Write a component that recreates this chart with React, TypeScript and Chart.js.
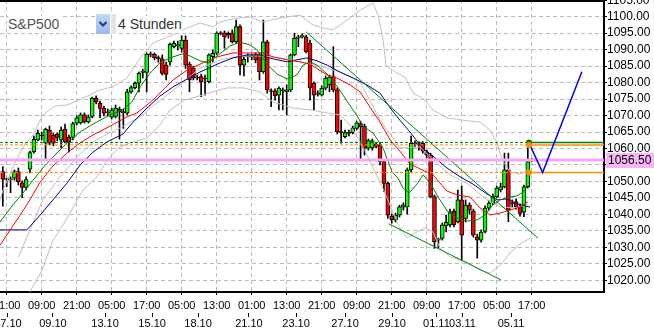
import React, { useEffect, useRef } from 'react';
import { Chart, registerables } from 'chart.js';

Chart.register(...registerables);

const FONT = "'Liberation Sans', Arial, Helvetica, sans-serif";

// ---- 4h candles (bar index 0..136) ----
const opens = [
  1053.0, 1050.7, 1050.5, 1051.0, 1053.0, 1049.6, 1048.2, 1053.7, 1059.0, 1062.6,
  1064.1, 1061.6, 1065.6, 1064.1, 1064.3, 1062.6, 1065.8, 1063.4, 1063.4, 1067.7,
  1067.8, 1070.2, 1068.1, 1069.7, 1075.2, 1073.7, 1072.2, 1071.1, 1069.5, 1069.7,
  1071.9, 1071.2, 1070.7, 1077.2, 1078.5, 1079.8, 1083.1, 1083.1, 1088.6, 1088.6,
  1087.6, 1087.2, 1085.3, 1086.3, 1090.9, 1091.2, 1090.4, 1092.9, 1085.6, 1084.3,
  1081.7, 1081.8, 1081.3, 1080.3, 1087.9, 1088.9, 1095.0, 1095.1, 1095.0, 1095.0,
  1092.4, 1097.0, 1085.3, 1087.8, 1087.8, 1088.4, 1088.4, 1083.3, 1092.4, 1077.5,
  1077.5, 1076.2, 1077.8, 1077.2, 1077.8, 1088.4, 1093.5, 1093.9, 1093.9, 1091.9,
  1079.8, 1076.7, 1076.2, 1078.3, 1079.3, 1081.8, 1077.8, 1065.1, 1063.6, 1064.7,
  1064.8, 1066.1, 1067.6, 1066.8, 1060.1, 1060.2, 1061.3, 1061.1, 1056.0, 1049.4,
  1039.5, 1038.3, 1039.8, 1042.2, 1042.3, 1053.5, 1061.6, 1061.2, 1061.6, 1059.0,
  1058.0, 1045.4, 1032.2, 1032.7, 1036.5, 1036.8, 1041.0, 1037.8, 1044.4, 1038.8,
  1042.8, 1041.0, 1033.2, 1032.2, 1034.8, 1041.9, 1043.4, 1045.4, 1047.4, 1048.4,
  1053.5, 1043.5, 1043.9, 1042.3, 1040.7, 1048.4, 1056.4,
];
const highs = [
  1054.5, 1051.0, 1051.4, 1053.5, 1054.1, 1050.2, 1051.4, 1059.2, 1063.8, 1065.6,
  1065.0, 1066.2, 1066.8, 1064.7, 1064.7, 1066.5, 1067.4, 1064.1, 1068.0, 1069.9,
  1070.8, 1070.8, 1070.2, 1075.6, 1076.0, 1074.4, 1072.9, 1072.0, 1072.3, 1073.2,
  1072.6, 1072.0, 1078.0, 1079.0, 1080.2, 1083.2, 1084.1, 1089.0, 1089.3, 1089.0,
  1088.1, 1088.4, 1086.2, 1092.0, 1092.6, 1092.6, 1094.2, 1094.2, 1086.2, 1085.0,
  1082.3, 1082.6, 1082.3, 1088.7, 1089.9, 1095.4, 1095.5, 1095.7, 1095.4, 1096.0,
  1099.0, 1097.5, 1087.8, 1088.7, 1088.7, 1089.0, 1089.0, 1099.0, 1092.9, 1078.1,
  1078.1, 1078.7, 1078.4, 1079.3, 1088.7, 1095.0, 1094.4, 1094.8, 1094.4, 1092.9,
  1080.2, 1077.5, 1079.0, 1082.0, 1082.3, 1090.9, 1078.4, 1068.6, 1065.6, 1065.6,
  1066.8, 1068.3, 1068.3, 1067.4, 1062.9, 1062.9, 1061.7, 1061.7, 1056.5, 1049.8,
  1040.1, 1040.4, 1042.8, 1043.5, 1054.1, 1063.8, 1062.3, 1062.0, 1062.1, 1059.5,
  1058.6, 1045.9, 1032.8, 1037.4, 1039.8, 1041.6, 1041.6, 1047.4, 1048.6, 1044.4,
  1043.5, 1041.6, 1034.0, 1035.3, 1042.6, 1044.1, 1046.2, 1048.6, 1049.5, 1058.6,
  1058.6, 1044.4, 1044.7, 1043.2, 1048.9, 1061.7, 1057.0,
];
const lows = [
  1042.5, 1048.4, 1046.6, 1050.4, 1048.9, 1045.1, 1047.4, 1052.6, 1058.6, 1062.3,
  1062.6, 1057.0, 1061.1, 1060.8, 1062.3, 1060.2, 1061.7, 1059.0, 1062.6, 1067.1,
  1067.4, 1067.7, 1067.7, 1069.3, 1073.5, 1069.3, 1069.9, 1069.9, 1069.0, 1069.3,
  1062.8, 1066.1, 1070.2, 1076.8, 1078.1, 1077.2, 1081.4, 1077.2, 1087.8, 1086.9,
  1086.2, 1082.3, 1080.8, 1085.3, 1090.5, 1089.9, 1089.3, 1084.3, 1077.2, 1080.8,
  1080.8, 1075.7, 1076.2, 1079.9, 1086.2, 1088.4, 1094.5, 1090.4, 1093.5, 1092.0,
  1092.0, 1082.3, 1082.0, 1086.2, 1086.9, 1086.0, 1080.8, 1082.8, 1076.8, 1072.7,
  1074.7, 1071.7, 1071.7, 1070.2, 1077.2, 1088.1, 1090.9, 1093.5, 1089.0, 1074.7,
  1071.7, 1075.9, 1075.9, 1077.8, 1077.2, 1077.2, 1064.4, 1061.6, 1063.2, 1063.8,
  1064.4, 1065.6, 1057.0, 1058.0, 1059.5, 1059.5, 1060.2, 1055.0, 1046.9, 1038.8,
  1037.3, 1037.7, 1039.2, 1041.3, 1040.1, 1052.9, 1060.5, 1059.5, 1058.6, 1057.1,
  1045.0, 1029.7, 1029.8, 1032.2, 1034.7, 1036.2, 1036.2, 1037.4, 1026.2, 1037.7,
  1040.1, 1033.1, 1026.7, 1031.6, 1034.4, 1041.3, 1042.9, 1045.0, 1046.8, 1048.0,
  1037.8, 1042.2, 1041.6, 1039.5, 1039.3, 1048.0, 1056.0,
];
const closes = [
  1050.7, 1050.5, 1050.7, 1053.0, 1049.9, 1048.2, 1050.6, 1058.8, 1062.8, 1064.6,
  1063.8, 1065.8, 1061.6, 1061.6, 1063.4, 1065.6, 1062.1, 1062.1, 1067.6, 1069.3,
  1070.2, 1068.1, 1069.5, 1075.2, 1074.2, 1072.2, 1070.7, 1070.8, 1071.7, 1072.2,
  1071.2, 1070.9, 1077.2, 1078.5, 1079.8, 1082.8, 1083.5, 1088.6, 1088.4, 1087.6,
  1087.2, 1082.8, 1082.5, 1091.6, 1091.9, 1091.3, 1092.9, 1085.3, 1080.8, 1081.4,
  1081.4, 1080.3, 1081.1, 1088.4, 1088.9, 1095.0, 1094.8, 1093.9, 1094.5, 1092.4,
  1097.0, 1085.3, 1087.1, 1087.9, 1088.1, 1086.9, 1083.3, 1092.4, 1077.8, 1077.3,
  1076.0, 1078.3, 1077.5, 1077.8, 1088.4, 1093.4, 1093.9, 1094.3, 1089.4, 1078.4,
  1076.2, 1076.5, 1078.3, 1081.3, 1081.7, 1077.8, 1065.1, 1064.7, 1064.8, 1064.6,
  1066.1, 1067.8, 1066.6, 1060.1, 1062.4, 1062.3, 1060.6, 1056.0, 1049.4, 1039.8,
  1038.3, 1039.8, 1042.3, 1042.9, 1053.5, 1061.6, 1061.4, 1061.1, 1059.2, 1058.0,
  1045.4, 1031.7, 1032.4, 1036.8, 1037.7, 1040.8, 1036.8, 1044.4, 1033.7, 1042.8,
  1041.3, 1033.7, 1032.2, 1034.6, 1041.9, 1043.4, 1045.4, 1048.0, 1048.4, 1053.5,
  1041.3, 1043.2, 1042.3, 1040.3, 1048.4, 1056.0, 1056.5,
];

// ---- indicator lines: [bar index, price] vertices ----
const maFast: number[][] = [
  [-0.7, 1037.7], [2.6, 1042.9], [5.2, 1046.5], [7.8, 1050.4], [10.3, 1054.1], [12.9, 1057.4],
  [16.5, 1061.7], [19.9, 1065.0], [23.2, 1067.4], [27.6, 1070.2], [30.7, 1071.7], [33.2, 1074.1],
  [35.3, 1078.7], [37.9, 1082.9], [40.4, 1086.0], [43.0, 1087.5], [46.1, 1088.7], [48.1, 1088.1],
  [50.7, 1086.6], [52.8, 1086.0], [55.1, 1088.1], [58.4, 1091.1], [61.0, 1092.3], [63.6, 1091.4],
  [65.4, 1089.9], [66.6, 1087.8], [67.9, 1085.6], [70.5, 1082.6], [73.1, 1081.1], [75.6, 1082.3],
  [77.2, 1085.3], [79.0, 1086.3], [80.8, 1085.3], [83.4, 1082.6], [85.9, 1079.0], [88.5, 1074.4],
  [91.1, 1069.9], [92.6, 1066.8], [95.2, 1064.7], [97.8, 1060.1], [100.1, 1052.9], [101.6, 1051.0],
  [102.9, 1048.0], [104.5, 1046.5], [106.5, 1049.2], [108.1, 1052.0], [109.9, 1049.5], [112.4, 1044.4],
  [114.5, 1040.7], [116.8, 1038.9], [119.4, 1038.0], [121.9, 1038.3], [124.0, 1039.8], [126.0, 1042.9],
  [127.9, 1044.4], [130.4, 1045.3], [132.2, 1045.6], [133.8, 1046.8], [134.8, 1048.3],
];
const maMid: number[][] = [
  [-0.7, 1030.7], [2.6, 1036.5], [6.2, 1042.9], [9.6, 1049.8], [12.9, 1054.7], [16.5, 1058.6],
  [19.9, 1061.7], [23.2, 1064.1], [27.6, 1066.8], [31.9, 1069.6], [34.5, 1070.8], [38.6, 1074.7],
  [41.2, 1077.8], [43.8, 1080.8], [47.4, 1083.8], [50.7, 1085.6], [55.1, 1087.8], [59.2, 1089.0],
  [63.6, 1089.0], [66.9, 1089.0], [69.5, 1087.8], [73.1, 1086.9], [76.4, 1086.3], [79.0, 1085.6],
  [83.4, 1082.3], [85.9, 1081.4], [89.3, 1079.3], [91.9, 1077.1], [94.4, 1072.6], [97.0, 1068.0],
  [99.6, 1062.6], [102.1, 1059.2], [104.7, 1055.3], [107.3, 1053.8], [110.6, 1052.0], [114.2, 1047.1],
  [116.8, 1045.9], [120.1, 1045.3], [122.7, 1042.0], [125.3, 1039.8], [127.8, 1040.4], [130.4, 1041.3],
  [133.0, 1042.2], [135.0, 1043.8],
];
const maSlow: number[][] = [
  [-0.7, 1035.3], [6.2, 1035.3], [9.6, 1039.8], [12.9, 1044.4], [16.5, 1049.5], [19.9, 1055.0],
  [23.2, 1058.9], [26.8, 1062.0], [30.9, 1064.4], [33.5, 1068.0], [37.1, 1072.3], [40.4, 1075.9],
  [43.8, 1078.7], [47.4, 1081.1], [50.7, 1083.2], [55.9, 1086.0], [59.2, 1087.5], [62.8, 1088.4],
  [66.1, 1088.4], [69.5, 1087.2], [73.1, 1086.3], [75.6, 1086.9], [78.2, 1087.5], [80.8, 1086.6],
  [83.4, 1085.3], [86.7, 1083.2], [90.1, 1081.4], [93.6, 1079.3], [97.0, 1076.8], [99.6, 1072.3],
  [102.1, 1068.6], [104.7, 1065.0], [108.0, 1060.0], [110.6, 1057.7], [114.2, 1054.1], [117.6, 1051.4],
  [120.9, 1049.2], [124.5, 1046.2], [127.1, 1044.4], [129.6, 1044.7], [132.2, 1043.2], [135.6, 1042.2],
];
const bandUpper: number[][] = [
  [-0.7, 1044.4], [0.05, 1047.4], [2.6, 1054.4], [5.2, 1060.5], [7.8, 1064.1], [10.3, 1070.2],
  [13.4, 1072.9], [16.5, 1073.2], [19.1, 1074.4], [21.7, 1075.9], [25.0, 1077.8], [28.3, 1078.7],
  [31.9, 1081.4], [35.3, 1087.5], [38.6, 1092.0], [42.2, 1093.8], [43.8, 1094.5], [47.4, 1096.6],
  [50.7, 1098.1], [54.1, 1096.9], [55.9, 1098.4], [60.2, 1099.6], [63.6, 1099.9], [66.9, 1098.4],
  [71.3, 1099.6], [76.4, 1100.5], [79.8, 1097.5], [82.3, 1096.6], [84.9, 1096.0], [87.5, 1098.1],
  [91.9, 1102.0], [95.2, 1104.2], [96.5, 1100.5], [97.8, 1092.9], [98.5, 1085.3], [100.9, 1083.2],
  [103.4, 1081.7], [105.5, 1076.8], [108.0, 1075.3], [110.6, 1071.7], [114.2, 1069.3], [117.6, 1068.7],
  [122.7, 1068.0], [125.3, 1065.6], [127.1, 1061.7], [128.4, 1056.5], [130.4, 1052.9], [133.0, 1052.3],
  [135.0, 1053.5],
];
const bandMiddle: number[][] = [
  [4.0, 1027.0], [7.0, 1035.3], [10.3, 1044.4], [14.7, 1051.4], [19.1, 1057.4], [23.2, 1062.0],
  [26.8, 1064.4], [30.1, 1066.2], [35.3, 1069.6], [38.6, 1072.9], [42.2, 1076.2], [45.6, 1079.3],
  [50.7, 1084.4], [55.9, 1086.9], [61.0, 1088.1], [66.1, 1088.1], [71.3, 1087.5], [76.4, 1086.3],
  [81.6, 1085.0], [86.7, 1083.2], [91.9, 1080.2], [97.0, 1068.6], [102.1, 1060.2], [107.3, 1060.5],
  [111.6, 1055.5], [115.0, 1052.0], [119.4, 1049.4], [124.5, 1044.4], [127.9, 1042.3], [131.7, 1042.0],
  [135.0, 1042.9],
];
const bandLower: number[][] = [
  [5.7, 1014.0], [7.0, 1016.5], [10.1, 1023.1], [12.9, 1032.2], [15.5, 1036.8], [18.1, 1042.2],
  [20.6, 1047.4], [24.2, 1051.4], [26.8, 1056.5], [30.1, 1060.5], [33.5, 1062.0], [37.1, 1063.2],
  [40.4, 1067.1], [43.0, 1071.7], [46.8, 1074.7], [50.7, 1076.0], [54.1, 1077.2], [57.7, 1078.4],
  [61.8, 1078.4], [66.1, 1077.2], [69.5, 1074.1], [74.6, 1072.3], [79.0, 1071.7], [83.4, 1070.8],
  [86.7, 1070.2], [89.3, 1067.1], [91.9, 1062.0], [93.7, 1058.0], [95.2, 1054.1], [97.0, 1049.8],
  [98.8, 1045.0], [100.3, 1040.7], [102.1, 1035.9], [103.9, 1032.8], [106.0, 1034.4], [108.6, 1035.9],
  [110.6, 1034.7], [112.4, 1029.8], [115.0, 1027.1], [119.4, 1025.6], [122.7, 1023.1], [125.3, 1022.2],
  [127.9, 1024.6], [130.4, 1028.3], [133.0, 1031.0], [135.6, 1032.8],
];
const trendUpper: number[][] = [[78.0, 1095.4], [137.6, 1032.8]];
const trendLower: number[][] = [[99.3, 1037.1], [128.1, 1020.1]];
const projection: number[][] = [[135.3, 1061.7], [138.8, 1052.7], [148.9, 1083.3]];

// ---- horizontal levels ----
const levelGreen = 1061.8;
const levelOrangeHigh = 1061.1;
const levelOrangeLow = 1052.7;
const currentPrice = 1056.5;
const levelStart = 135.3;

// ---- axes ----
const X_MIN = -0.72;
const X_MAX = 154.59;
const Y_MIN = 1016.45;
const Y_MAX = 1105.07;
const timeTickIdx = [1, 10, 19, 28, 37, 46, 55, 64, 73, 82, 91, 100, 109, 118, 127, 136];
const timeLabels = ['21:00', '09:00', '21:00', '05:00', '17:00', '05:00', '13:00', '01:00',
  '13:00', '21:00', '09:00', '21:00', '09:00', '17:00', '05:00', '17:00'];
const dateTickIdx = [1.3, 12.9, 26.3, 38.4, 50.2, 63.3, 75.4, 88.0, 100.1, 111.5, 118.2, 130.7];
const dateLabels = ['07.10', '09.10', '13.10', '15.10', '18.10', '21.10', '23.10', '27.10',
  '29.10', '01.11', '03.11', '05.11'];
const priceTicks = [1020, 1025, 1030, 1035, 1040, 1045, 1050, 1055, 1060, 1065, 1070, 1075,
  1080, 1085, 1090, 1095, 1100, 1105];

const BULL = '#00ff00';
const BEAR = '#ff0000';
const GRID = '#bcbcbc';

const pts = (arr: number[][]) => arr.map(([x, y]) => ({ x, y }));

function lineDs(label: string, data: number[][], color: string, order: number, extra: any = {}) {
  return {
    type: 'line', label, data: pts(data), borderColor: color, backgroundColor: color,
    borderWidth: 1, pointRadius: 0, fill: false, tension: 0, order, ...extra,
  };
}

const overlayPlugin = {
  id: 'overlay',
  afterDraw(chart: any) {
    const { ctx, chartArea: a, scales } = chart;
    ctx.save();
    ctx.fillStyle = '#000';
    ctx.fillRect(0, 0, a.right + 1, 2);
    const py = scales.y.getPixelForValue(currentPrice);
    ctx.fillStyle = '#f7b4f7';
    ctx.fillRect(a.right + 2, Math.round(py) - 7, 50, 15);
    ctx.fillStyle = '#000';
    ctx.font = `12px ${FONT}`;
    ctx.textBaseline = 'middle';
    ctx.textAlign = 'left';
    ctx.fillText(currentPrice.toFixed(2), a.right + 4, py + 0.5);
    ctx.restore();
  },
};

export default function App() {
  const ref = useRef<HTMLCanvasElement>(null);

  useEffect(() => {
    document.body.style.margin = '0';
    const canvas = ref.current as HTMLCanvasElement;
    const idx = opens.map((_, i) => i);

    const chart = new Chart(canvas, {
      type: 'bar',
      data: {
        datasets: [
          {
            type: 'bar', label: 'wicks',
            data: idx.map((i) => ({ x: i, y: [lows[i], highs[i]] })),
            backgroundColor: '#000', barThickness: 1, grouped: false, order: 20,
          } as any,
          {
            type: 'bar', label: 'bodies',
            data: idx.map((i) => ({ x: i, y: [opens[i], closes[i]] })),
            backgroundColor: idx.map((i) => (closes[i] >= opens[i] ? BULL : BEAR)),
            borderColor: '#000', borderWidth: 1, borderSkipped: false,
            barThickness: 4, minBarLength: 1, grouped: false, order: 19,
          } as any,
          lineDs('bbUpper', bandUpper, '#c0c0c0', 12),
          lineDs('bbMiddle', bandMiddle, '#c0c0c0', 12),
          lineDs('bbLower', bandLower, '#c0c0c0', 12),
          lineDs('maSlow', maSlow, '#000080', 11),
          lineDs('maMid', maMid, '#ff0000', 10),
          lineDs('maFast', maFast, '#008000', 9),
          lineDs('trendUpper', trendUpper, '#008000', 8),
          lineDs('trendLower', trendLower, '#008000', 8),
          lineDs('current', [[X_MIN, currentPrice], [X_MAX, currentPrice]], '#f5a6f5', 7, { borderWidth: 3 }),
          lineDs('greenDash', [[X_MIN, levelGreen], [levelStart, levelGreen]], '#008000', 6, { borderDash: [3, 2] }),
          lineDs('orangeHiDash', [[X_MIN, levelOrangeHigh], [levelStart, levelOrangeHigh]], '#ff8c00', 6, { borderDash: [3, 2] }),
          lineDs('orangeLoDash', [[X_MIN, levelOrangeLow], [levelStart, levelOrangeLow]], '#ff8c00', 6, { borderDash: [3, 2] }),
          lineDs('greenSolid', [[levelStart, levelGreen], [X_MAX, levelGreen]], '#008000', 5, { borderWidth: 1.5 }),
          lineDs('orangeHiSolid', [[levelStart, levelOrangeHigh], [X_MAX, levelOrangeHigh]], '#ff8c00', 5, { borderWidth: 1.5 }),
          lineDs('orangeLoSolid', [[levelStart, levelOrangeLow], [X_MAX, levelOrangeLow]], '#ff8c00', 5, { borderWidth: 1.5 }),
          lineDs('projection', projection, '#0000ff', 4, { borderWidth: 1.5 }),
          lineDs('dotGreen', [[levelStart, levelGreen]], '#008000', 1, { showLine: false, pointRadius: 3, pointBorderWidth: 0 }),
          lineDs('dotOrangeHi', [[levelStart, levelOrangeHigh]], '#ff8c00', 0, { showLine: false, pointRadius: 3, pointBorderWidth: 0 }),
          lineDs('dotOrangeLo', [[levelStart, levelOrangeLow]], '#ff8c00', 0, { showLine: false, pointRadius: 3, pointBorderWidth: 0 }),
        ] as any,
      },
      options: {
        responsive: false,
        animation: false,
        events: [],
        layout: { padding: 0, autoPadding: false } as any,
        plugins: { legend: { display: false }, tooltip: { enabled: false } },
        scales: {
          x: {
            type: 'linear', position: 'bottom', min: X_MIN, max: X_MAX, weight: 0, offset: false,
            afterBuildTicks: (s: any) => { s.ticks = timeTickIdx.map((v) => ({ value: v })); },
            afterFit: (s: any) => { s.height = 21; s.paddingLeft = 0; s.paddingRight = 0; },
            ticks: {
              autoSkip: false, maxRotation: 0, minRotation: 0, padding: 4, color: '#000',
              font: { family: FONT, size: 11 },
              callback: (_v: any, i: number) => timeLabels[i],
            },
            grid: { offset: false, color: GRID, lineWidth: 1, drawTicks: true, tickLength: 3, tickColor: '#000' },
            border: { display: true, color: '#000', width: 2, dash: [4, 3] },
          } as any,
          x2: {
            type: 'linear', axis: 'x', position: 'bottom', min: X_MIN, max: X_MAX, weight: 1, offset: false,
            afterBuildTicks: (s: any) => { s.ticks = dateTickIdx.map((v) => ({ value: v })); },
            afterFit: (s: any) => { s.height = 20; s.paddingLeft = 0; s.paddingRight = 0; },
            ticks: {
              autoSkip: false, maxRotation: 0, minRotation: 0, padding: 0, color: '#000',
              font: { family: FONT, size: 11 },
              callback: (_v: any, i: number) => dateLabels[i],
            },
            grid: { offset: false, drawOnChartArea: false, drawTicks: true, tickLength: 4, color: '#000', tickColor: '#000' },
            border: { display: false },
          } as any,
          y: {
            type: 'linear', position: 'right', min: Y_MIN, max: Y_MAX,
            afterBuildTicks: (s: any) => { s.ticks = priceTicks.map((v) => ({ value: v })); },
            afterFit: (s: any) => { s.width = 50; s.paddingTop = 0; s.paddingBottom = 0; },
            ticks: {
              autoSkip: false, padding: 0, color: '#000',
              font: { family: FONT, size: 12 },
              callback: (v: any) => Number(v).toFixed(2),
            },
            grid: { color: GRID, lineWidth: 1, drawTicks: true, tickLength: 3, tickColor: '#000' },
            border: { display: true, color: '#000', width: 2, dash: [4, 3] },
          } as any,
        },
      },
      plugins: [overlayPlugin],
    });
    return () => chart.destroy();
  }, []);

  const textStyle: React.CSSProperties = {
    position: 'absolute', top: 16, height: 17, lineHeight: '17px', fontFamily: FONT,
    fontSize: 14, background: '#fff', whiteSpace: 'nowrap',
  };

  return (
    <div style={{ position: 'relative', width: 654, height: 333, background: '#fff' }}>
      <canvas ref={ref} width={654} height={333} style={{ display: 'block' }} />
      <div style={{ ...textStyle, left: 8, width: 52, color: '#555' }}>{'S&P500'}</div>
      <div style={{ position: 'absolute', left: 96, top: 14, width: 14, height: 20,
        background: 'linear-gradient(#c4d6f6, #9db8ea)', borderRadius: 1 }}>
        <svg width="14" height="20" style={{ display: 'block' }}>
          <polyline points="3.5,8 7,11.5 10.5,8" fill="none" stroke="#1c3f7c" strokeWidth="2" />
        </svg>
      </div>
      <div style={{ position: 'absolute', left: 111, top: 14, width: 5, height: 20, background: '#e4e4e4' }} />
      <div style={{ ...textStyle, left: 118, color: '#333' }}>4 Stunden</div>
    </div>
  );
}
